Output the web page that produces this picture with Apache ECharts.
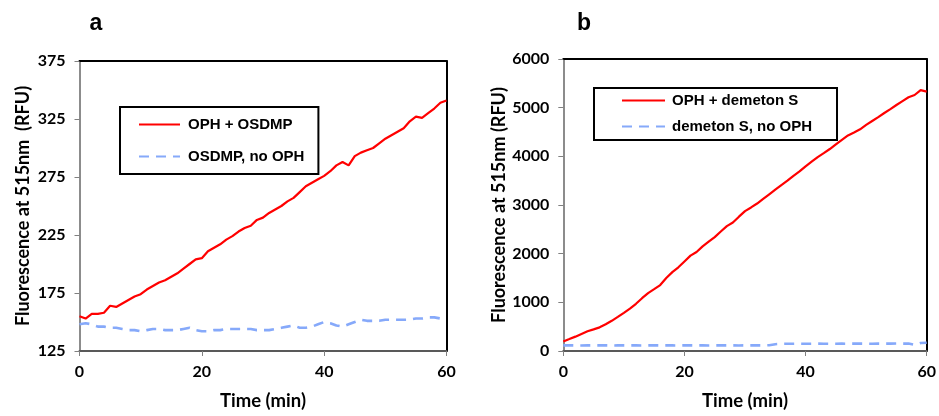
<!DOCTYPE html>
<html><head><meta charset="utf-8">
<script src="https://cdn.jsdelivr.net/npm/echarts@6/dist/echarts.min.js"></script>
<style>html,body{margin:0;padding:0;background:#fff}#c{width:939px;height:416px}</style>
</head><body><div id="c"></div>
<script>
// Time points (min)
const timeMin = [0,1,2,3,4,5,6,7,8,9,10,11,12,13,14,15,16,17,18,19,20,21,22,23,24,25,26,27,28,29,30,
  31,32,33,34,35,36,37,38,39,40,41,42,43,44,45,46,47,48,49,50,51,52,53,54,55,56,57,58,59,60];
// Panel a (RFU)
const ophOsdmp = [155,153,157,157,158,164,163,166,169,172,174,178,181,184,186,189,192,196,200,204,205,
  211,214,217,221,224,228,231,233,238,240,244,247,250,254,257,262,267,270,273,276,280,285,288,285,293,
  296,298,300,304,308,311,314,317,323,327,326,330,334,339,341];
const osdmpNoOph = [148,149,148,146,146,145,145,144,143,143,142,143,144,144,143,143,143,144,145,143,142,
  142,143,143,144,144,144,144,144,143,143,143,144,145,146,147,145,145,146,148,150,149,147,146,148,150,
  152,151,151,151,152,152,152,152,152,153,153,154,154,153,153];
// Panel b (RFU)
const ophDemeton = [196,245,295,350,405,445,486,550,620,700,785,872,970,1085,1190,1270,1355,1500,1620,1720,
  1840,1960,2035,2150,2245,2340,2455,2565,2640,2760,2875,2950,3030,3125,3220,3315,3410,3500,3600,3690,
  3795,3890,3985,4065,4150,4245,4340,4430,4490,4555,4645,4725,4805,4890,4970,5055,5135,5215,5260,5360,5330];
const demetonNoOph = [115,116,115,114,115,116,115,115,114,115,116,115,115,114,115,116,115,115,115,114,115,
  116,115,115,114,115,115,116,115,114,115,115,116,115,118,140,148,149,148,150,149,150,151,150,149,150,
  151,150,151,152,151,150,152,151,152,153,152,152,125,165,170];
const xTicks = {min: 0, max: 60, interval: 20};
const yTicksA = {min: 125, max: 375, interval: 50};
const yTicksB = {min: 0, max: 6000, interval: 1000};
const namesA = ['OPH + OSDMP', 'OSDMP, no OPH'];
const namesB = ['OPH + demeton S', 'demeton S, no OPH'];
const xTitle = 'Time (min)';
const yTitleA = 'Fluorescence at 515nm  (RFU)';
const yTitleB = 'Fluorescence at 515nm (RFU)';

const F = 'Lato';
const L = 'Liberation Sans';
const RED = '#FF0000', BLUE = '#86A9FA';
const pairs = arr => timeMin.map((t, i) => [t, arr[i]]);
const plain = v => String(v);

function xAxes(g) {
  return [
    {gridIndex: g, type: 'value', min: xTicks.min, max: xTicks.max, interval: xTicks.interval, position: 'bottom',
     axisLine: {onZero: false, lineStyle: {color: '#595959', width: 2}},
     axisTick: {show: true, length: 5, lineStyle: {color: '#808080', width: 1}},
     axisLabel: {margin: 13, fontFamily: F, fontWeight: 'bold', fontSize: 16, color: '#000', formatter: plain},
     splitLine: {show: false},
     name: xTitle, nameLocation: 'middle', nameGap: 41,
     nameTextStyle: {fontFamily: F, fontWeight: 'bold', fontSize: 18.5, color: '#000'}},
    {gridIndex: g, type: 'value', min: xTicks.min, max: xTicks.max, position: 'top',
     axisLine: {show: true, onZero: false, lineStyle: {color: '#000', width: 2}},
     axisTick: {show: false}, axisLabel: {show: false}, splitLine: {show: false}}
  ];
}
function yAxes(g, t, title, gap) {
  return [
    {gridIndex: g, type: 'value', min: t.min, max: t.max, interval: t.interval, position: 'left',
     axisLine: {show: true, onZero: false, lineStyle: {color: '#8C8C8C', width: 2}},
     axisTick: {show: true, length: 5, lineStyle: {color: '#808080', width: 1}},
     axisLabel: {margin: 14, fontFamily: F, fontWeight: 'bold', fontSize: 16, color: '#000', formatter: plain},
     splitLine: {show: false},
     name: title, nameLocation: 'middle', nameGap: gap, nameRotate: 90,
     nameTextStyle: {fontFamily: F, fontWeight: 'bold', fontSize: 18, color: '#000'}},
    {gridIndex: g, type: 'value', min: t.min, max: t.max, position: 'right',
     axisLine: {show: true, onZero: false, lineStyle: {color: '#000', width: 2}},
     axisTick: {show: false}, axisLabel: {show: false}, splitLine: {show: false}}
  ];
}
function line(name, data, xi, yi, color, dashed) {
  return {name, type: 'line', xAxisIndex: xi, yAxisIndex: yi, data: pairs(data),
    symbol: 'none', showSymbol: false, smooth: false, z: dashed ? 2 : 3,
    lineStyle: {color, width: dashed ? 2.6 : 2.2, type: dashed ? [10, 7] : 'solid'},
    itemStyle: {color}};
}
const chart = echarts.init(document.getElementById('c'), null, {renderer: 'canvas'});
chart.setOption({
  animation: false,
  backgroundColor: '#fff',
  grid: [
    {left: 79.5, top: 61, width: 367, height: 293.5},
    {left: 563.3, top: 59, width: 365, height: 294.5}
  ],
  xAxis: [...xAxes(0), ...xAxes(1)],
  yAxis: [...yAxes(0, yTicksA, yTitleA, 47), ...yAxes(1, yTicksB, yTitleB, 55)],
  legend: [
    {data: namesA, orient: 'vertical', left: 120, top: 107, padding: [10, 14, 10, 18],
     itemWidth: 41, itemHeight: 14, itemGap: 17, borderColor: '#000', borderWidth: 2, backgroundColor: '#fff',
     itemStyle: {opacity: 0},
     textStyle: {fontFamily: L, fontWeight: 'bold', fontSize: 15, color: '#000', padding: [0, 0, 0, 3]}},
    {data: namesB, orient: 'vertical', left: 594, top: 88, padding: [5, 25, 6, 27],
     itemWidth: 43, itemHeight: 14, itemGap: 11, borderColor: '#000', borderWidth: 2, backgroundColor: '#fff',
     itemStyle: {opacity: 0},
     textStyle: {fontFamily: L, fontWeight: 'bold', fontSize: 15, color: '#000', padding: [0, 0, 0, 2]}}
  ],
  graphic: [
    {type: 'text', x: 96, y: 24, style: {text: 'a', fontFamily: L, fontWeight: 'bold', fontSize: 23, fill: '#000', align: 'center', verticalAlign: 'middle'}},
    {type: 'text', x: 584, y: 24, style: {text: 'b', fontFamily: L, fontWeight: 'bold', fontSize: 23, fill: '#000', align: 'center', verticalAlign: 'middle'}}
  ],
  series: [
    line(namesA[0], ophOsdmp, 0, 0, RED, false),
    line(namesA[1], osdmpNoOph, 0, 0, BLUE, true),
    line(namesB[0], ophDemeton, 2, 2, RED, false),
    line(namesB[1], demetonNoOph, 2, 2, BLUE, true)
  ]
});
</script></body></html>
